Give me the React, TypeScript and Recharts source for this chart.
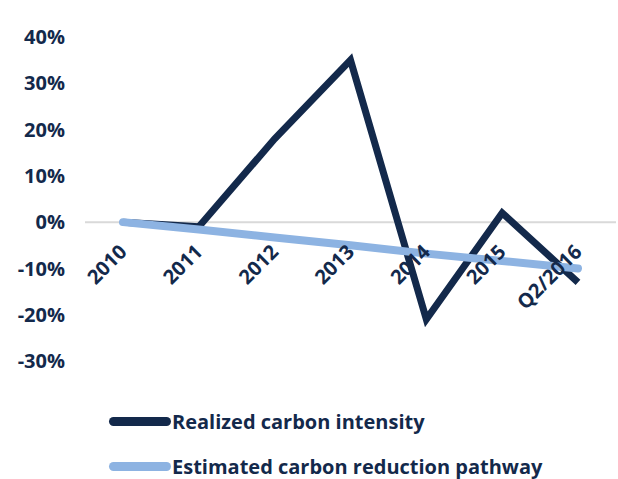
import React from 'react';
import { LineChart, Line, XAxis, YAxis, ReferenceLine, ReferenceDot, Legend } from 'recharts';

const categories = ['2010', '2011', '2012', '2013', '2014', '2015', 'Q2/2016'];
const realized = [0, -1, 18, 35, -21, 2, -13];
const estimated = [0, -1.6, -3.3, -5, -6.8, -8.4, -10];
const yTicks = [-30, -20, -10, 0, 10, 20, 30, 40];
const seriesNames = ['Realized carbon intensity', 'Estimated carbon reduction pathway'];

const DARK = '#13294b';
const LIGHT = '#8db3e2';
const FONT = '"Open Sans", sans-serif';

const data = categories.map((c, i) => ({ cat: c, realized: realized[i], estimated: estimated[i] }));

const LegendContent = () => {
  const colors = [DARK, LIGHT];
  return (
    <div style={{ position: 'relative', width: 618, height: 110 }}>
      {seriesNames.map((n, i) => (
        <div
          key={n}
          style={{
            position: 'absolute',
            left: 109,
            top: 60 + i * 45 - 14,
            height: 28,
            display: 'flex',
            alignItems: 'center',
          }}
        >
          <div style={{ width: 62, height: 9, borderRadius: 5, background: colors[i], marginRight: 1 }} />
          <span style={{ fontFamily: FONT, fontWeight: 700, fontSize: 20, color: DARK, whiteSpace: 'nowrap' }}>{n}</span>
        </div>
      ))}
    </div>
  );
};

const CatLabel = (label: string) => (props: any) => {
  const { cx, cy } = props;
  const ax = cx + 5;
  const ay = cy + 31;
  return (
    <text
      x={ax}
      y={ay}
      transform={`rotate(-45 ${ax} ${ay})`}
      textAnchor="end"
      fill={DARK}
      fontFamily={FONT}
      fontWeight={700}
      fontSize={20}
    >
      {label}
    </text>
  );
};

export default function App() {
  return (
    <div style={{ position: 'absolute', left: 0, top: 0, width: 618, height: 479, background: '#fff' }}>
      <LineChart width={618} height={479} data={data} margin={{ top: 37, right: 2, bottom: 8, left: 0 }}>
        <XAxis dataKey="cat" hide padding={{ left: 38, right: 38 }} />
        <YAxis
          domain={[-30, 40]}
          ticks={yTicks}
          width={85}
          axisLine={false}
          tickLine={false}
          tickSize={0}
          tickMargin={20}
          interval={0}
          tickFormatter={(v: number) => `${v}%`}
          tick={{ fill: DARK, fontFamily: FONT, fontWeight: 700, fontSize: 20 }}
        />
        <ReferenceLine y={0} stroke="#d9d9d9" strokeWidth={2} />
        {categories.map((c) => (
          <ReferenceDot key={c} x={c} y={0} r={0} shape={CatLabel(c)} />
        ))}
        <Line
          dataKey="realized"
          name={seriesNames[0]}
          stroke={DARK}
          strokeWidth={7}
          strokeLinejoin="miter"
          dot={false}
          activeDot={false}
          isAnimationActive={false}
        />
        <Line
          dataKey="estimated"
          name={seriesNames[1]}
          stroke={LIGHT}
          strokeWidth={8}
          strokeLinecap="round"
          dot={false}
          activeDot={false}
          isAnimationActive={false}
        />
        <Legend verticalAlign="bottom" align="left" content={<LegendContent />} wrapperStyle={{ left: 0, width: 618 }} />
      </LineChart>
    </div>
  );
}
